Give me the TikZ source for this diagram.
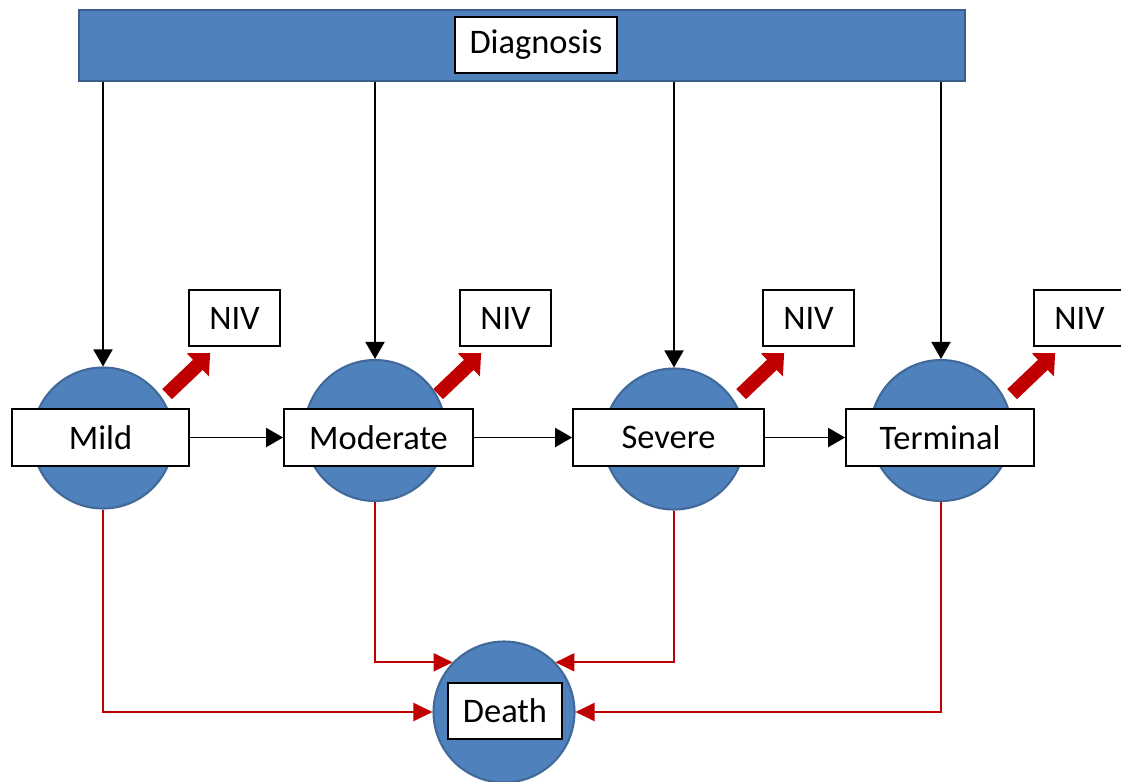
\documentclass[tikz,border=0pt]{standalone}
\usepackage{fontspec}
\setmainfont{Carlito}
\usetikzlibrary{arrows.meta}
\definecolor{stageblue}{HTML}{4F81BD}
\definecolor{stageedge}{HTML}{41699A}
\definecolor{deathred}{HTML}{C00000}
\begin{document}
\begin{tikzpicture}[x=0.02cm, y=-0.02cm,
    font=\fontsize{19.6}{23}\selectfont,
    stage/.style={circle, fill=stageblue, draw=stageedge, line width=1.2pt, minimum size=2.82cm, inner sep=0pt},
    label box/.style={draw, fill=white, line width=1pt, minimum height=1.13cm, inner sep=0pt},
    niv box/.style={label box, minimum width=1.82cm},
    flow/.style={-{Triangle[length=0.34cm, width=0.38cm]}, line width=1.1pt},
    death flow/.style={-{Triangle[length=0.38cm, width=0.36cm]}, draw=deathred, line width=1.2pt},
    niv arrow/.style={-{Triangle[length=0.34cm, width=0.62cm]}, draw=deathred, line width=0.28cm}]
  \useasboundingbox (0,0) rectangle (1121,781);

  % top bar
  \node[fill=stageblue, draw=stageedge!90!black, line width=1.4pt, minimum width=17.72cm, minimum height=1.42cm] (bar) at (522,45.5) {};
  \node[label box, minimum width=3.24cm] (diag) at (536,45) {Diagnosis};

  % stages
  \node[stage] (mild) at (103,438) {};
  \node[stage] (moderate) at (375,430.5) {};
  \node[stage] (severe) at (674,439) {};
  \node[stage] (terminal) at (941,430.5) {};
  \node[stage] (death) at (504,712) {};

  \node[label box, minimum width=3.54cm] (mildbox) at (100.5,437.5) {Mild};
  \node[label box, minimum width=3.78cm] (moderatebox) at (378.5,437.5) {Moderate};
  \node[label box, minimum width=3.82cm] (severebox) at (668.5,437.5) {Severe};
  \node[label box, minimum width=3.76cm] (terminalbox) at (940,437.5) {Terminal};
  \node[label box, minimum width=2.28cm] (deathbox) at (505,711) {Death};

  \node[niv box] (nivmild) at (234.5,318) {NIV};
  \node[niv box] (nivmoderate) at (505.5,318) {NIV};
  \node[niv box] (nivsevere) at (808.5,318) {NIV};
  \node[niv box] (nivterminal) at (1079.5,318) {NIV};

  % diagnosis into every stage
  \foreach \s in {mild, moderate, severe, terminal}
    \draw[flow] (bar.south -| \s) -- (\s);

  % progression
  \draw[flow] (mildbox) -- (moderatebox);
  \draw[flow] (moderatebox) -- (severebox);
  \draw[flow] (severebox) -- (terminalbox);

  % NIV
  \foreach \s in {mild, moderate, severe, terminal}
    \draw[niv arrow] ([shift={(-21,47)}]niv\s.south west) -- ([shift={(22,6)}]niv\s.south west);

  % death
  \draw[death flow] (mild.south) |- (death.west);
  \draw[death flow] (moderate.south) |- (death.136);
  \draw[death flow] (severe.south) |- (death.44);
  \draw[death flow] (terminal.south) |- (death.east);
\end{tikzpicture}
\end{document}
